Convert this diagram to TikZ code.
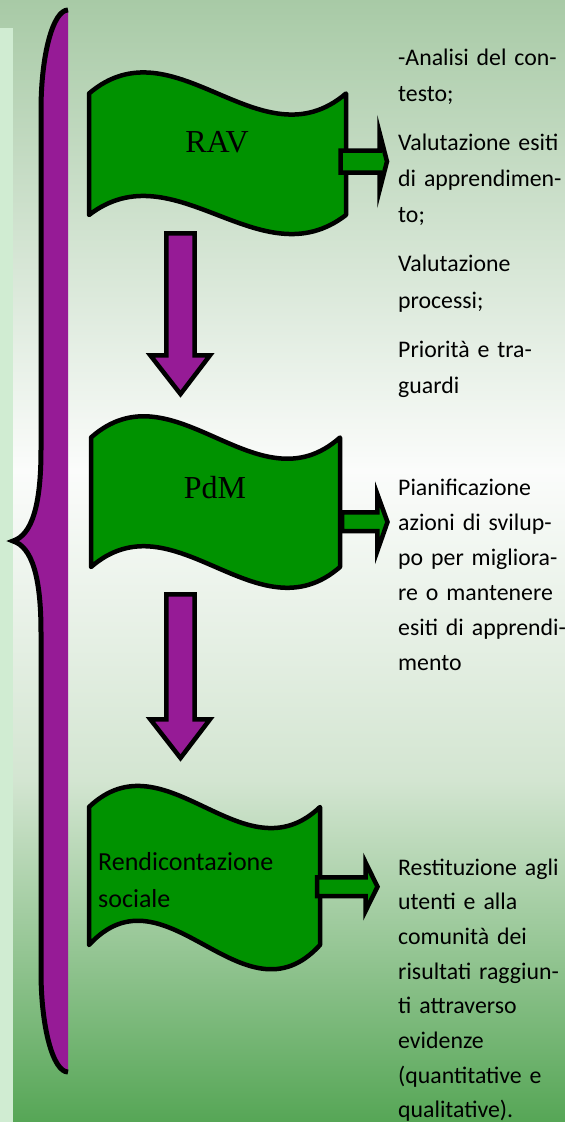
\documentclass[tikz,border=0pt]{standalone}
\usepackage{fontspec}
\setmainfont{Liberation Serif}
\newfontfamily\cali{Carlito}
\usetikzlibrary{positioning}

\definecolor{bgtop}{RGB}{168,202,166}
\definecolor{bgwhite}{RGB}{251,252,251}
\definecolor{bglow}{RGB}{211,229,209}
\definecolor{bgbot}{RGB}{86,166,86}
\definecolor{strip}{RGB}{208,236,210}
\definecolor{vio}{RGB}{150,27,150}
\definecolor{leaf}{RGB}{0,146,0}

\tikzset{
  banner/.style={draw=black,fill=leaf,line width=4.5pt,line join=round},
  downarrow/.style={draw=black,fill=vio,line width=4.5pt,line join=miter},
  sidearrow/.style={draw=black,fill=leaf,line width=4.5pt,line join=miter},
  bannertext/.style={inner sep=0pt,font=\fontsize{32}{38}\selectfont},
  sidetext/.style={anchor=base west,inner sep=0pt,text width=200pt,align=left,
    font=\cali\fontsize{23.8}{#1}\selectfont}
}

\begin{document}
\begin{tikzpicture}[x=1pt,y=-1pt]
			\useasboundingbox (0,0) rectangle (565,1122);
			% background
			\fill[top color=bgtop,bottom color=bgwhite] (0,0) rectangle (565,470.5);
			\fill[top color=bgwhite,bottom color=bglow] (0,470) rectangle (565,780.5);
			\fill[top color=bglow,bottom color=bgbot] (0,780) rectangle (565,1122);
			\fill[strip] (0,28) rectangle (13,1122);
			% brace
			\fill[vio] (68,10) .. controls (53,10) and (41,55) .. (41,110) -- (41,450)
				.. controls (41,505) and (32,535) .. (13,541)
				.. controls (32,547) and (41,577) .. (41,632) -- (41,972)
				.. controls (41,1027) and (53,1072) .. (68,1072) -- cycle;
			\draw[line width=5pt] (68,10) .. controls (53,10) and (41,55) .. (41,110) -- (41,450)
				.. controls (41,505) and (32,535) .. (13,541)
				.. controls (32,547) and (41,577) .. (41,632) -- (41,972)
				.. controls (41,1027) and (53,1072) .. (68,1072);
			% banners
			\draw[banner] (89,93.5) .. controls (174.7,20.5) and (260.3,166.5) .. (346,93.5) -- (346,215)
				.. controls (260.3,281) and (174.7,149) .. (89,215) -- cycle;
			\draw[banner] (91,437.5) .. controls (174,364) and (257,511) .. (340,437.5) -- (340,567)
				.. controls (257,639) and (174,495) .. (91,567) -- cycle;
			\draw[banner] (89,807) .. controls (166,734) and (243,880) .. (320,807) -- (320,945)
				.. controls (243,1029) and (166,861) .. (89,945) -- cycle;
			\node[bannertext,anchor=base] at (217,152) (rav) {RAV};
			\node[bannertext,anchor=base] at (215,498) (pdm) {PdM};
			\node[anchor=base west,inner sep=0pt,text width=200pt,align=left,
				font=\cali\fontsize{26}{37}\selectfont] at (98,870) (rend) {Rendicontazione\\sociale};
			% side arrows
			\draw[sidearrow] (340.5,150.5) -- (379.5,150.5) -- (379.5,132.5) -- (387,161.5)
				-- (379.5,190.5) -- (379.5,172.5) -- (340.5,172.5) -- cycle;
			\draw[sidearrow] (342,512.3) -- (377.3,512.3) -- (377.3,494) -- (387.5,522)
				-- (377.3,551) -- (377.3,531) -- (342,531) -- cycle;
			\draw[sidearrow] (317,877.3) -- (365.5,877.3) -- (365.5,862.3) -- (377.5,886.7)
				-- (365.5,911) -- (365.5,896) -- (317,896) -- cycle;
			% down arrows
			\draw[downarrow] (166.3,233.3) -- (194.5,233.3) -- (194.5,355.3) -- (210,355.3)
				-- (180.5,394) -- (150.3,355.3) -- (166.3,355.3) -- cycle;
			\draw[downarrow] (166.3,594.3) -- (194.5,594.3) -- (194.5,719.3) -- (210,719.3)
				-- (180.5,758) -- (150.3,719.3) -- (166.3,719.3) -- cycle;
			% texts
			\node[sidetext=36.3] at (398,65) (analisi) {-Analisi del con-\\testo;\\[12.7pt]Valutazione esiti\\di apprendimen-\\to;\\[12.7pt]Valutazione\\processi;\\[12.7pt]Priorità e tra-\\guardi};
			\node[sidetext=35.1] at (398,495) (pianif) {Pianificazione\\azioni di svilup-\\po per migliora-\\re o mantenere\\esiti di apprendi-\\mento};
			\node[sidetext=34.7] at (398,875) (restit) {Restituzione agli\\utenti e alla\\comunità dei\\risultati raggiun-\\ti attraverso\\evidenze\\(quantitative e\\qualitative).};
		\end{tikzpicture}
\end{document}
